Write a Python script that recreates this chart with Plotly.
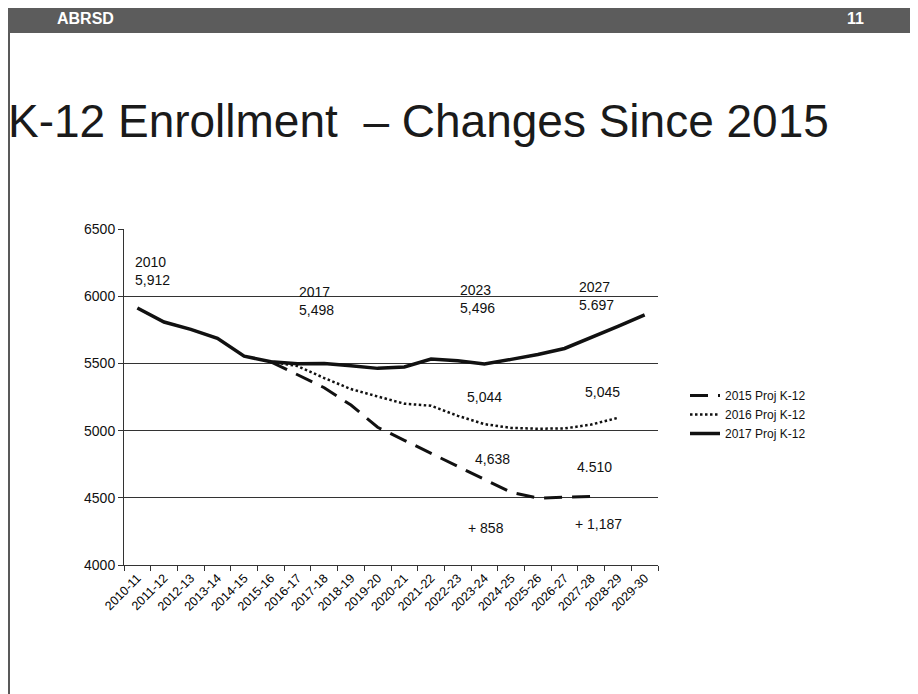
import plotly.graph_objects as go

# ---------------- data ----------------
categories = ["2010-11", "2011-12", "2012-13", "2013-14", "2014-15", "2015-16",
              "2016-17", "2017-18", "2018-19", "2019-20", "2020-21", "2021-22",
              "2022-23", "2023-24", "2024-25", "2025-26", "2026-27", "2027-28",
              "2028-29", "2029-30"]

proj_2015 = [None, None, None, None, None, 5512, 5418, 5319, 5190, 5025,
             4928, 4832, 4738, 4638, 4540, 4498, 4502, 4510, None, None]
proj_2016 = [None, None, None, None, None, 5512, 5480, 5391, 5309, 5254,
             5200, 5185, 5110, 5048, 5020, 5014, 5016, 5045, 5095, None]
proj_2017 = [5912, 5808, 5753, 5687, 5554, 5512, 5498, 5500, 5483, 5463,
             5473, 5532, 5519, 5496, 5530, 5566, 5611, 5697, 5776, 5861]

series_names = ["2015 Proj K-12", "2016 Proj K-12", "2017 Proj K-12"]
y_ticks = [4000, 4500, 5000, 5500, 6000, 6500]

# annotation texts: (category position, value position, text)
notes = [
    (0.55, 6185, "2010<br>5,912"),
    (6.7, 5962, "2017<br>5,498"),
    (12.73, 5977, "2023<br>5,496"),
    (17.2, 5999, "2027<br>5.697"),
    (19.76, 6236, "2029<br>5,861"),
    (13.0, 5250, "5,044"),
    (17.42, 5287, "5,045"),
    (13.3, 4790, "4,638"),
    (17.12, 4731, "4.510"),
    (13.07, 4278, "+ 858"),
    (17.27, 4308, "+ 1,187"),
]

# ---------------- layout geometry ----------------
# the page places the figure at (8, 8); all target positions are page pixels
OX, OY = 8, 8
W, H = 910, 686
L, R, T, B = 116, 260, 221, 129
PW, PH = W - L - R, H - T - B


def px(x):
    return (x - OX - L) / PW


def py(y):
    return (H - B - (y - OY)) / PH


FONT = "Arial, Liberation Sans, sans-serif"
INK = "#111111"

fig = go.Figure()
fig.add_trace(go.Scatter(x=categories, y=proj_2015, name=series_names[0], mode="lines",
                         line=dict(color=INK, width=3, dash="18px,10px"),
                         connectgaps=False))
fig.add_trace(go.Scatter(x=categories, y=proj_2016, name=series_names[1], mode="lines",
                         line=dict(color=INK, width=2.5, dash="2.5px,2.5px"),
                         connectgaps=False))
fig.add_trace(go.Scatter(x=categories, y=proj_2017, name=series_names[2], mode="lines",
                         line=dict(color=INK, width=3.5)))

annotations = []
for xc, yv, txt in notes:
    annotations.append(dict(x=xc, y=yv, xref="x", yref="y", text=txt, showarrow=False,
                            xanchor="center", yanchor="middle", align="left",
                            font=dict(family=FONT, size=14, color=INK)))

# slide header / title
annotations.append(dict(x=px(55), y=py(18), xref="paper", yref="paper", text="<b>ABRSD</b>",
                        showarrow=False, xanchor="left", yanchor="middle",
                        font=dict(family=FONT, size=16, color="white")))
annotations.append(dict(x=px(866), y=py(18), xref="paper", yref="paper", text="<b>11</b>",
                        showarrow=False, xanchor="right", yanchor="middle",
                        font=dict(family=FONT, size=16, color="white")))
annotations.append(dict(x=px(6), y=py(121), xref="paper", yref="paper",
                        text="K-12 Enrollment \u00a0\u2013 Changes Since 2015",
                        showarrow=False, xanchor="left", yanchor="middle",
                        font=dict(family=FONT, size=46, color="#1a1a1a")))

shapes = [
    dict(type="rect", xref="paper", yref="paper", x0=px(0), x1=px(930), y0=py(33), y1=py(2),
         fillcolor="#5c5c5c", line=dict(width=0), layer="below"),
    dict(type="line", xref="paper", yref="paper", x0=px(9), x1=px(9), y0=py(33), y1=py(700),
         line=dict(color="#222222", width=1.5)),
]

fig.update_layout(
    width=W, height=H,
    margin=dict(l=L, r=R, t=T, b=B, pad=0),
    paper_bgcolor="white", plot_bgcolor="white",
    showlegend=True,
    legend=dict(x=px(685), y=py(381), xanchor="left", yanchor="top",
                font=dict(family=FONT, size=12, color=INK),
                bgcolor="rgba(0,0,0,0)", tracegroupgap=0, itemwidth=30),
    annotations=annotations,
    shapes=shapes,
    font=dict(family=FONT, color=INK),
)

fig.update_xaxes(type="category", range=[-0.5, 19.5], tickangle=-45,
                 showline=True, linecolor="#333333", linewidth=1,
                 ticks="outside", ticklen=5, tickcolor="#333333", tickson="boundaries",
                 showgrid=False, tickfont=dict(family=FONT, size=12.5, color="#000000"))
fig.update_yaxes(range=[4000, 6500], tickvals=y_ticks, showline=True,
                 linecolor="#333333", linewidth=1, ticks="outside", ticklen=5,
                 tickcolor="#333333", showgrid=True, gridcolor="#333333", gridwidth=1,
                 zeroline=False, tickfont=dict(family=FONT, size=14, color=INK))

fig.write_html("out.html")
